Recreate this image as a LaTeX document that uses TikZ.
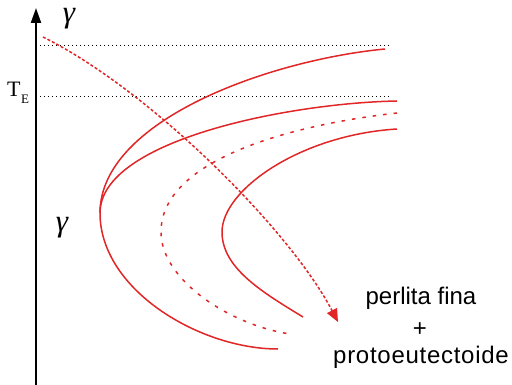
\documentclass[tikz,border=0pt]{standalone}
\usepackage{fontspec}
\usetikzlibrary{arrows.meta}
\newfontfamily\arialf{Liberation Sans}
\newfontfamily\timesf{Liberation Serif}
\definecolor{cred}{RGB}{224,38,38}
\begin{document}
\begin{tikzpicture}[x=1pt,y=-1pt,
  axisline/.style={line width=2.2pt,black,-{Triangle[length=15pt,width=10pt]}},
  guide/.style={line width=0.9pt,black,dash pattern=on 1pt off 3pt},
  curvesolid/.style={line width=1.5pt,cred},
  curvedot/.style={line width=1.5pt,cred,dash pattern=on 3.5pt off 7pt},
  patharrow/.style={line width=1.5pt,cred,dash pattern=on 3pt off 2pt,-{Triangle[length=13pt,width=11pt]}},
  lbl/.style={font=\arialf\fontsize{24}{24}\selectfont,inner sep=0pt},
  gam/.style={font=\timesf\itshape\fontsize{31}{31}\selectfont,inner sep=0pt,anchor=base}]
\useasboundingbox (0,0) rectangle (512,385);
% axis
\coordinate (ax0) at (36,385);
\coordinate (ax1) at (36,8);
\draw[axisline] (ax0) -- (ax1);
% guides
\coordinate (g1a) at (40,45);
\coordinate (g1b) at (390,45);
\coordinate (g2a) at (40,96.5);
\coordinate (g2b) at (390,96.5);
\draw[guide] (g1a) -- (g1b);
\draw[guide] (g2a) -- (g2b);
% labels
\node[gam] (gtop) at (69,23) {γ};
\node[gam] (gmid) at (62,232) {γ};
\node[anchor=base west,inner sep=0pt,font=\timesf\fontsize{22}{22}\selectfont] (te) at (7,96.5)
  {T\kern0.5pt\raisebox{-7.5pt}{\fontsize{13}{13}\selectfont E}};
% curves
\draw[curvesolid] (385,49) .. controls (270,60) and (100,120) .. (100,213)
                  .. controls (100,290) and (200,349) .. (278,349);
\draw[curvesolid] (397,101) .. controls (290,103) and (100,140) .. (100,213);
\draw[curvedot] (397,113) .. controls (290,125) and (161,160) .. (161,232)
                .. controls (161,280) and (230,325) .. (290,334);
\draw[curvesolid] (397,129) .. controls (300,135) and (222,190) .. (222,232)
                  .. controls (222,268) and (262,292) .. (303,317);
% path arrow
\coordinate (pa0) at (43,37);
\coordinate (pa1) at (338,322);
\draw[patharrow] (pa0) .. controls (150,90) and (290,230) .. (pa1);
% text
\node[lbl,anchor=base] (t1) at (421,305) {perlita fina};
\node[lbl,anchor=base] (t2) at (420,336) {+};
\node[lbl,anchor=base] (t3) at (421,363) {\addfontfeature{LetterSpace=3}protoeutectoide};
\end{tikzpicture}
\end{document}
